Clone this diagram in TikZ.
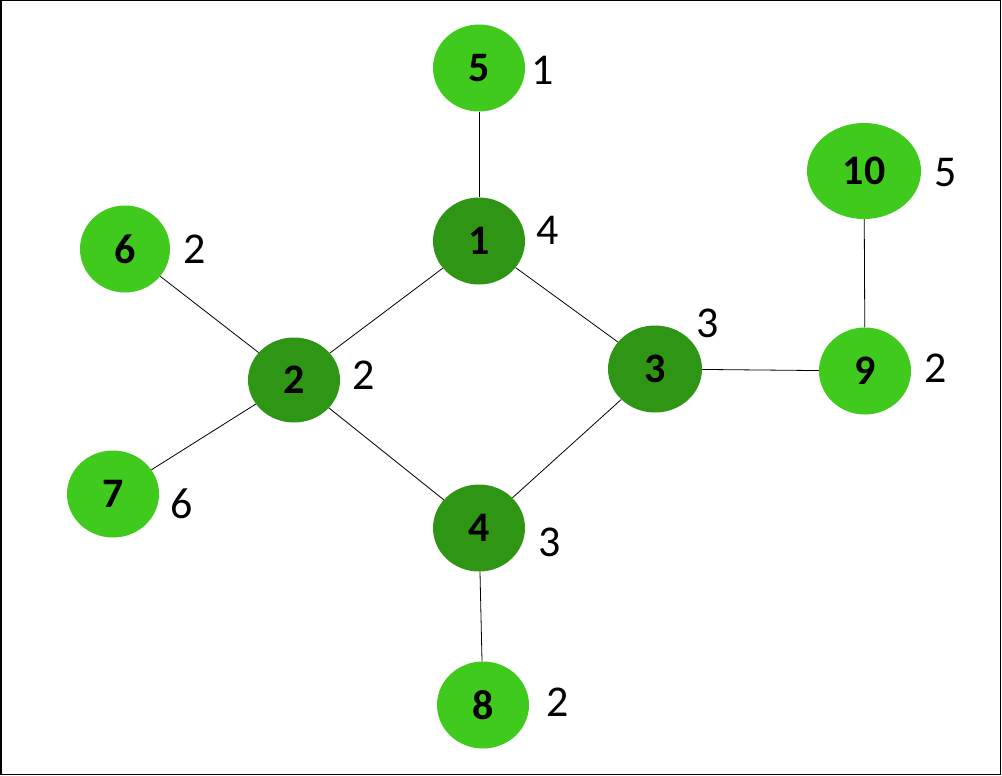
\documentclass[tikz,border=0pt]{standalone}
\usepackage{fontspec}
\setmainfont{Carlito}
\usetikzlibrary{shapes.geometric}
\definecolor{dkg}{RGB}{46,150,20}
\definecolor{ltg}{RGB}{65,202,30}
\begin{document}
\begin{tikzpicture}[x=1pt,y=-1pt,
  vtx/.style={ellipse,inner sep=0pt,minimum width=92pt,minimum height=87pt,font=\fontsize{42}{42}\selectfont\bfseries},
  dark/.style={vtx,fill=dkg},
  light/.style={vtx,fill=ltg},
  lbl/.style={font=\fontsize{44}{44}\selectfont,inner sep=0pt},
  edge/.style={draw=black,line width=0.8pt}]
\path[use as bounding box] (0,0) rectangle (1002,776);
\draw[line width=1.5pt] (0.75,0.75) rectangle (1000.5,774.5);
% nodes
\node[light] (n5) at (479,68) {5};
\node[dark]  (n1) at (479,241) {1};
\node[light,minimum width=114pt,minimum height=96pt] (n10) at (864,171) {10};
\node[light,minimum width=90pt] (n6) at (125,249) {6};
\node[dark,minimum height=85pt] (n2) at (294,380) {2};
\node[light] (n7) at (113,494) {7};
\node[dark,minimum width=94pt] (n3) at (655,369) {3};
\node[light] (n9) at (865,371) {9};
\node[dark] (n4) at (479,528) {4};
\node[light] (n8) at (483,705) {8};
% labels
\node[lbl] (l5) at (543,70) {1};
\node[lbl] (l1) at (548,230) {4};
\node[lbl] (l10) at (946,173) {5};
\node[lbl] (l6) at (195,249) {2};
\node[lbl] (l2) at (364,375) {2};
\node[lbl] (l7) at (182,504) {6};
\node[lbl] (l4) at (550,542) {3};
\node[lbl] (l8) at (558,702) {2};
\node[lbl] (l3) at (708,323) {3};
\node[lbl] (l9) at (936,368) {2};
% edges
\draw[edge] (n5) -- (n1);
\draw[edge] (n1) -- (n2);
\draw[edge] (n1) -- (n3);
\draw[edge] (n6) -- (n2);
\draw[edge] (n7) -- (n2);
\draw[edge] (n2) -- (n4);
\draw[edge] (n4) -- (n3);
\draw[edge] (n3) -- (n9);
\draw[edge] (n10) -- (n9);
\draw[edge] (n4) -- (n8);
\end{tikzpicture}
\end{document}
